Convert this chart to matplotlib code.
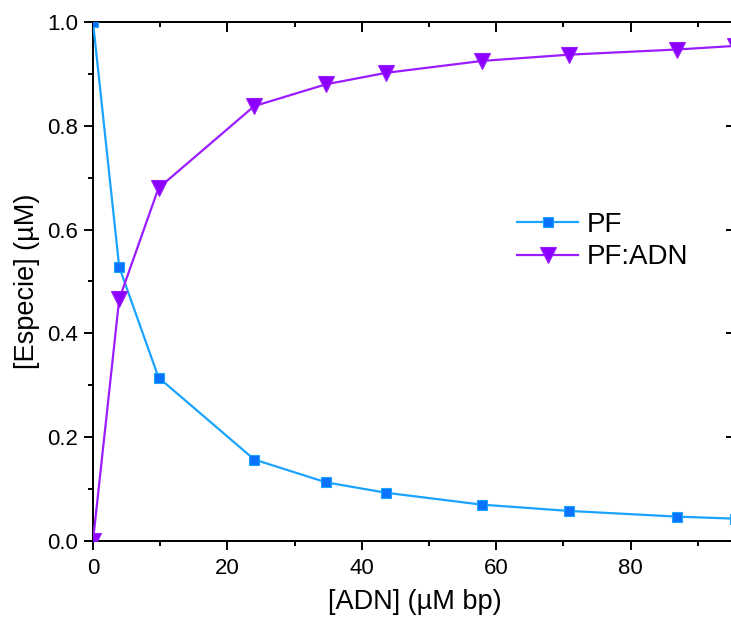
import matplotlib
matplotlib.use("Agg")
import matplotlib.pyplot as plt
from matplotlib.ticker import MultipleLocator

plt.rcParams["font.family"] = ["Liberation Sans", "DejaVu Sans"]

# [ADN] (uM bp) and species concentrations
adn = [0, 3.9, 9.75, 24.0, 34.7, 43.6, 57.9, 70.8, 86.9, 95.6]
pf = [1.0, 0.528, 0.315, 0.157, 0.113, 0.093, 0.070, 0.058, 0.047, 0.043]
pf_adn = [0.0, 0.466, 0.680, 0.838, 0.880, 0.902, 0.925, 0.937, 0.947, 0.954]

PF_LINE = "#1AA3FF"
PF_MARK = "#0A72FF"
ADN_LINE = "#9A1CFF"
ADN_MARK = "#8C00FF"

fig = plt.figure(figsize=(7.31, 6.24), dpi=100)
ax = fig.add_axes([93 / 731, 83 / 624, 643 / 731, 519 / 624])

ax.plot(adn, pf, color=PF_LINE, lw=1.6, marker="s", ms=7.8,
        mfc=PF_MARK, mec=PF_LINE, mew=0.8, label="PF", zorder=3)
ax.plot(adn, pf_adn, color=ADN_LINE, lw=1.6, marker="v", ms=11,
        mfc=ADN_MARK, mec=ADN_LINE, mew=0.8, label="PF:ADN", zorder=3)

ax.set_xlim(0, 95.7)
ax.set_ylim(0, 1.0)
ax.xaxis.set_major_locator(MultipleLocator(20))
ax.xaxis.set_minor_locator(MultipleLocator(10))
ax.yaxis.set_major_locator(MultipleLocator(0.2))
ax.yaxis.set_minor_locator(MultipleLocator(0.1))
ax.yaxis.set_major_formatter(plt.FuncFormatter(lambda v, p: "%.1f" % v))

# inward ticks on the opposite sides
top = ax.secondary_xaxis("top")
top.xaxis.set_major_locator(MultipleLocator(20))
top.xaxis.set_minor_locator(MultipleLocator(10))
top.tick_params(which="major", direction="in", length=7, width=1.4, labeltop=False)
top.tick_params(which="minor", direction="in", length=3.5, width=1.4)
right = ax.secondary_yaxis("right")
right.yaxis.set_major_locator(MultipleLocator(0.2))
right.yaxis.set_minor_locator(MultipleLocator(0.1))
right.tick_params(which="major", direction="in", length=7, width=1.4, labelright=False)
right.tick_params(which="minor", direction="in", length=3.5, width=1.4)
for sec in (top, right):
    for s in sec.spines.values():
        s.set_linewidth(1.4)

for s in ax.spines.values():
    s.set_linewidth(1.4)
ax.tick_params(which="major", direction="out", length=6.5, width=1.4,
               labelsize=16, pad=4)
ax.tick_params(which="minor", direction="out", length=3.3, width=1.4)
ax.tick_params(axis="x", which="major", pad=6)

ax.set_xlabel("[ADN] (µM bp)", fontsize=19.5, labelpad=7)
ax.set_ylabel("[Especie] (µM)", fontsize=19.5, labelpad=5)

ax.legend(loc="center left", bbox_to_anchor=(517 / 731, 1 - 241 / 624),
          bbox_transform=fig.transFigure, frameon=False, fontsize=20,
          handlelength=2.2, handletextpad=0.3, labelspacing=0.25,
          borderpad=0, borderaxespad=0)

fig.savefig("out.png", dpi=100)
